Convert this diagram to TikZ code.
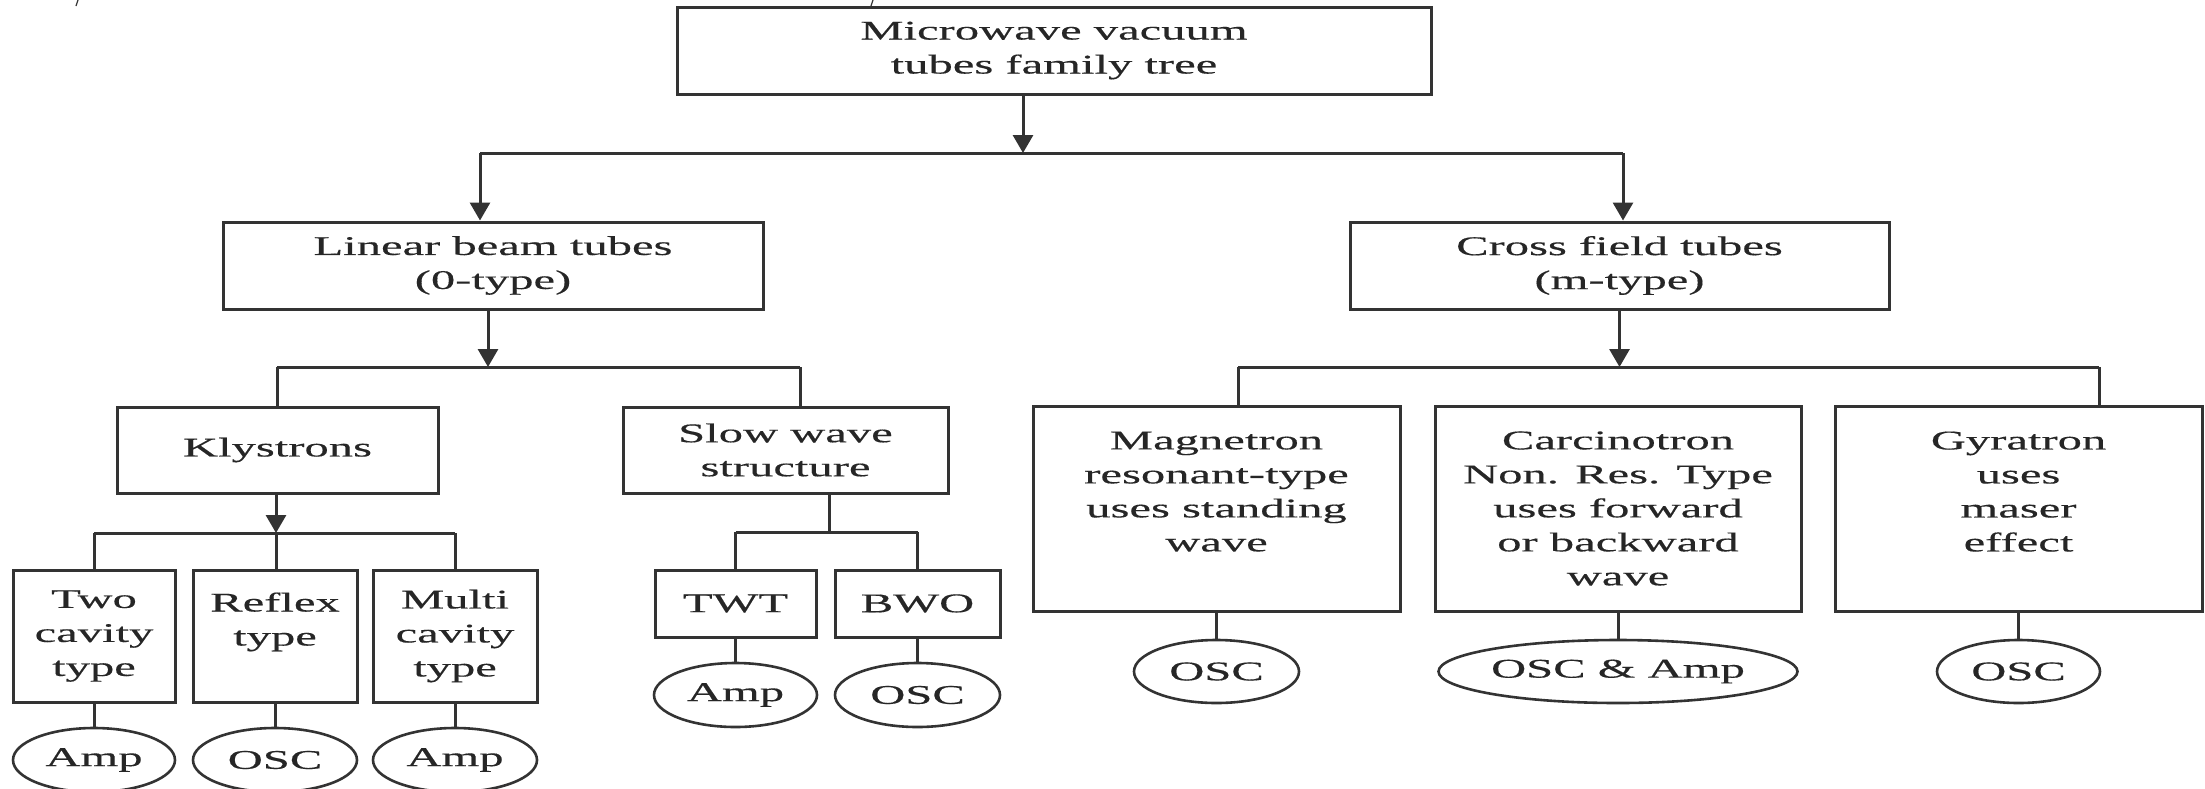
\documentclass[tikz,border=0pt]{standalone}
\usepackage{fontspec}
\setmainfont{Liberation Serif}[FakeStretch=1.8,FakeBold=0.4]
\usetikzlibrary{shapes.geometric,arrows.meta}
\begin{document}
\begin{tikzpicture}[x=1pt,y=-1pt,
  every node/.style={font=\fontsize{27}{34}\selectfont, text=black!85},
  box/.style={draw=black!80, line width=3pt, inner sep=0pt, align=center},
  oval/.style={ellipse, draw=black!80, line width=2.6pt, inner sep=0pt, align=center},
  conn/.style={draw=black!80, line width=3pt},
  arr/.style={conn, -{Triangle[length=18pt,width=20pt]}}
]
\useasboundingbox (0,0) rectangle (2205,788);
% boxes
\node[box, minimum width=754pt, minimum height=87pt] (top) at (1054,50.5) {Microwave vacuum\\tubes family tree};
\node[box, minimum width=540pt, minimum height=87pt] (lin) at (493,265.5) {Linear beam tubes\\(0-type)};
\node[box, minimum width=539pt, minimum height=87pt] (cross) at (1619.5,265.5) {Cross field tubes\\(m-type)};
\node[box, minimum width=321pt, minimum height=86pt] (klys) at (277.5,450) {Klystrons};
\node[box, minimum width=325pt, minimum height=86pt] (slow) at (785.5,450) {Slow wave\\structure};
\node[box, minimum width=367pt, minimum height=205pt] (mag) at (1216.5,508.5) {Magnetron\\resonant-type\\uses standing\\wave\\\mbox{}};
\node[box, minimum width=366pt, minimum height=205pt] (carc) at (1618,508.5) {Carcinotron\\Non. Res. Type\\uses forward\\or backward\\wave};
\node[box, minimum width=367pt, minimum height=205pt] (gyr) at (2018.5,508.5) {Gyratron\\uses\\maser\\effect\\\mbox{}};
\node[box, minimum width=162pt, minimum height=132pt] (two) at (94,636) {Two\\cavity\\type};
\node[box, minimum width=164pt, minimum height=132pt] (refl) at (275,636) {Reflex\\type\\\mbox{}};
\node[box, minimum width=164pt, minimum height=132pt] (multi) at (455,636) {Multi\\cavity\\type};
\node[box, minimum width=161pt, minimum height=67pt] (twt) at (735.5,603.5) {TWT};
\node[box, minimum width=165pt, minimum height=67pt] (bwo) at (917.5,603.5) {BWO};
% ellipses
\node[oval, minimum width=162pt, minimum height=64pt] (e1) at (94,760) {Amp};
\node[oval, minimum width=164pt, minimum height=64pt] (e2) at (275,760) {OSC};
\node[oval, minimum width=164pt, minimum height=64pt] (e3) at (455,760) {Amp};
\node[oval, minimum width=163pt, minimum height=64pt] (e4) at (735.5,695) {Amp};
\node[oval, minimum width=165pt, minimum height=64pt] (e5) at (917.5,695) {OSC};
\node[oval, minimum width=165pt, minimum height=63pt] (e6) at (1216.5,671.5) {OSC};
\node[oval, minimum width=330pt, minimum height=63pt] (e7) at (1618,671.5) {OSC \& Amp};
\node[oval, minimum width=163pt, minimum height=63pt] (e8) at (2018.5,671.5) {OSC};
% junction coordinates
\coordinate (j1) at (1023,153);
\coordinate (j1l) at (480,153);
\coordinate (j1r) at (1623,153);
\coordinate (j2) at (488,367);
\coordinate (j2l) at (277,367);
\coordinate (j2r) at (800,367);
\coordinate (j3) at (1619.5,367);
\coordinate (j3l) at (1238,367);
\coordinate (j3r) at (2099,367);
\coordinate (j4) at (276,533);
\coordinate (j4l) at (94,533);
\coordinate (j4r) at (455,533);
\coordinate (j5) at (829,532);
\coordinate (j5l) at (735.5,532);
\coordinate (j5r) at (917.5,532);
% level 1
\draw[arr] (top.south -| j1) -- (j1);
\draw[conn] (j1l) -- (j1r);
\draw[arr] (j1l) -- (j1l |- lin.north);
\draw[arr] (j1r) -- (j1r |- cross.north);
% level 2 left
\draw[arr] (lin.south -| j2) -- (j2);
\draw[conn] (j2l) -- (j2r);
\draw[conn] (j2l) -- (j2l |- klys.north);
\draw[conn] (j2r) -- (j2r |- slow.north);
% level 2 right
\draw[arr] (cross.south) -- (j3);
\draw[conn] (j3l) -- (j3r);
\draw[conn] (j3l) -- (j3l |- mag.north);
\draw[conn] (j3r) -- (j3r |- gyr.north);
% klystrons
\draw[arr] (klys.south -| j4) -- (j4);
\draw[conn] (j4l) -- (j4r);
\draw[conn] (j4l) -- (two.north);
\draw[conn] (j4) -- (j4 |- refl.north);
\draw[conn] (j4r) -- (multi.north);
% slow wave
\draw[conn] (slow.south -| j5) -- (j5);
\draw[conn] (j5l) -- (j5r);
\draw[conn] (j5l) -- (twt.north);
\draw[conn] (j5r) -- (bwo.north);
% to ellipses
\draw[conn] (two.south) -- (e1.north);
\draw[conn] (refl.south) -- (e2.north);
\draw[conn] (multi.south) -- (e3.north);
\draw[conn] (twt.south) -- (e4.north);
\draw[conn] (bwo.south) -- (e5.north);
\draw[conn] (mag.south) -- (e6.north);
\draw[conn] (carc.south) -- (e7.north);
\draw[conn] (gyr.south) -- (e8.north);
% small marks at the top edge
\draw[black!80, line width=1.2pt] (78,0) -- (76,6);
\draw[black!80, line width=1.2pt] (873,0) -- (871,6);
\end{tikzpicture}
\end{document}
